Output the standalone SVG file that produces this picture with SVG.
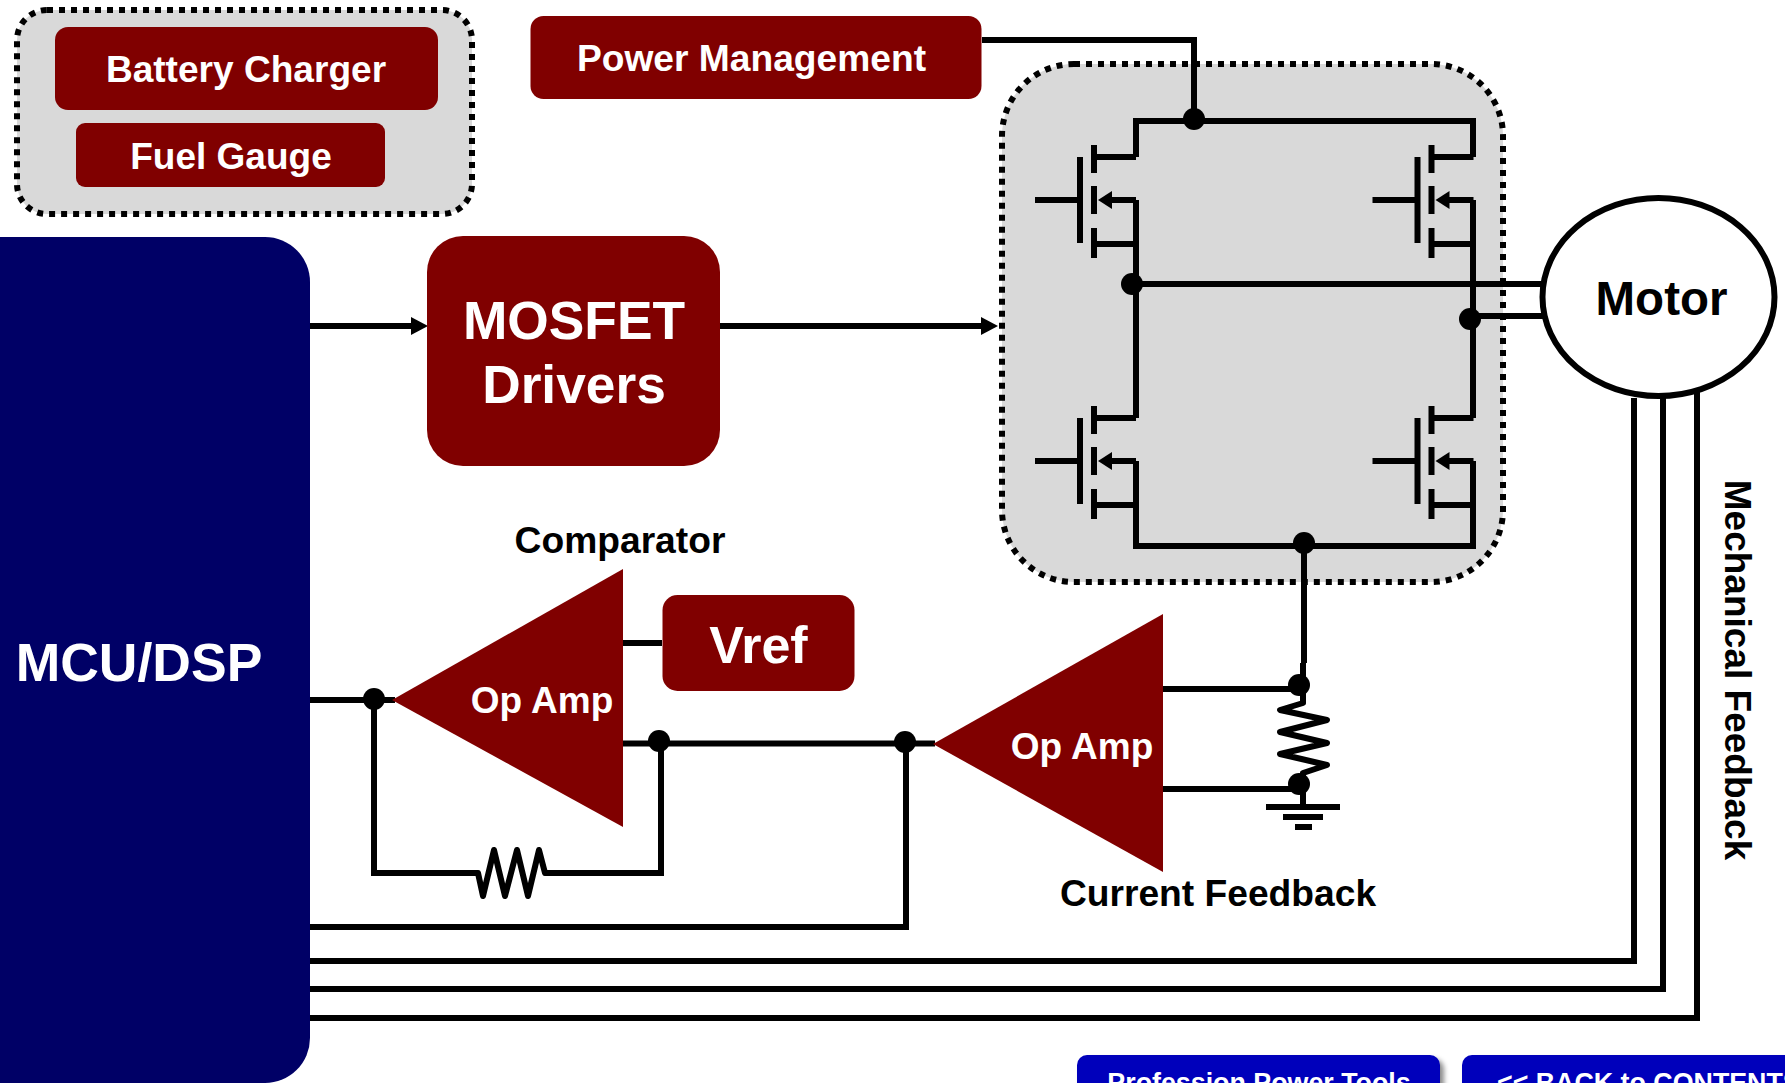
<svg xmlns="http://www.w3.org/2000/svg" width="1785" height="1083" viewBox="0 0 1785 1083">
<defs>
<style>
text{font-family:"Liberation Sans",Arial,sans-serif;font-weight:bold;text-anchor:middle}
.w{fill:#fff}.k{fill:#000}
.red{fill:#800000}
.grp{fill:#d9d9d9;stroke:#000;stroke-width:6;stroke-dasharray:6 6}
.l{fill:none;stroke:#000;stroke-width:6;stroke-linecap:butt;stroke-linejoin:miter}
.z{fill:none;stroke:#000;stroke-width:6;stroke-linejoin:round;stroke-linecap:round}
.btn{fill:#0000bb}
</style>
<marker id="arr" markerUnits="userSpaceOnUse" markerWidth="18" markerHeight="20" refX="17" refY="9" orient="auto"><path d="M0,0L17,9L0,18z" fill="#000"/></marker>
<filter id="sh" x="-5%" y="-10%" width="112%" height="130%"><feDropShadow dx="4" dy="4" stdDeviation="2.5" flood-color="#000" flood-opacity=".45"/></filter>
<g id="fet"><path class="l" d="M1035,200H1078M1080,157V243M1094,145V173M1094,186V214M1094,228V258M1094,157H1136M1105,200H1136M1094,244H1136"/><path d="M1098,200L1112,191V209z" fill="#000"/></g>
</defs>
<g id="battery-group"><rect class="grp" x="17" y="10" width="455" height="204" rx="30"/></g>
<g id="battery-charger"><rect class="red" x="55" y="27" width="383" height="83" rx="13"/><text class="w" x="246" y="82" font-size="37.1">Battery Charger</text></g>
<g id="fuel-gauge"><rect class="red" x="76" y="123" width="309" height="64" rx="9"/><text class="w" x="231" y="169" font-size="37">Fuel Gauge</text></g>
<g id="power-management"><rect class="red" x="530.5" y="16" width="451" height="83" rx="13"/><text class="w" x="751.5" y="71" font-size="37.2">Power Management</text></g>
<g id="bridge-group"><rect class="grp" x="1002" y="64" width="501" height="518" rx="72"/></g>
<g id="connectors">
<path class="l" d="M982,40H1194V120"/>
<path class="l" d="M1136,157V121H1473V157"/>
<path class="l" d="M1136,200V418M1473,200V418M1136,461V546H1473V461"/>
<path class="l" d="M1136,284H1545M1470,316H1545"/>
<path class="l" d="M1304,546V663"/>
<path class="l" d="M1303,663V703M1303,773V806"/>
<path class="l" d="M1163,689H1298M1163,789H1298"/>
<path class="z" d="M1303,703L1280,710L1327,720L1280,732L1327,743L1280,754L1327,765L1303,773"/>
<path class="l" d="M1266,807H1340M1283,817H1323M1295,827H1312"/>
<path class="l" d="M310,326H415"/><path d="M411,317L428,326L411,335z" fill="#000"/>
<path class="l" d="M720,326H985"/><path d="M981,317L998,326L981,335z" fill="#000"/>
<path class="l" d="M623,643H662"/>
<path class="l" d="M310,700H395"/>
<path class="l" d="M374,700V873H478M545,873H661V744"/>
<path class="z" d="M478,873L483,896L494,850L505,896L517,850L528,896L539,850L545,873"/>
<path class="l" d="M623,743.500H935"/>
<path class="l" d="M906,744V927H310"/>
<path class="l" d="M1634,398V961H310M1663,398V989H310M1697,392V1018H310"/>
</g>
<g id="mosfet-q1"><use href="#fet"/></g>
<g id="mosfet-q2"><use href="#fet" x="337.500"/></g>
<g id="mosfet-q3"><use href="#fet" y="261"/></g>
<g id="mosfet-q4"><use href="#fet" x="337.500" y="261"/></g>
<g id="junctions" fill="#000">
<circle cx="1194" cy="119" r="11"/><circle cx="1132" cy="284" r="11"/><circle cx="1470" cy="319" r="11"/><circle cx="1304" cy="543" r="11"/>
<circle cx="1299" cy="685" r="11"/><circle cx="1299" cy="784" r="11"/><circle cx="374" cy="699" r="11"/><circle cx="659" cy="741" r="11"/><circle cx="905" cy="742" r="11"/>
</g>
<g id="motor"><ellipse cx="1658.500" cy="297" rx="116" ry="99" fill="#fff" stroke="#000" stroke-width="6"/><text class="k" x="1661.500" y="315" font-size="47.500">Motor</text></g>
<g id="mcu-dsp"><rect x="-60" y="237" width="370" height="846" rx="45" fill="#000066"/><rect x="-60" y="1000" width="60" height="83" fill="#000066"/><text class="w" x="139" y="681" font-size="53.500">MCU/DSP</text></g>
<g id="mosfet-drivers"><rect class="red" x="427" y="236" width="293" height="230" rx="36"/><text class="w" x="574" y="339" font-size="53.300">MOSFET</text><text class="w" x="574" y="403" font-size="53.300">Drivers</text></g>
<g id="vref"><rect class="red" x="662.500" y="595" width="192" height="96" rx="15"/><text class="w" x="758.500" y="663" font-size="52">Vref</text></g>
<g id="comparator"><path class="red" d="M392,700L623,569V827z"/><text class="w" x="542" y="713" font-size="37">Op Amp</text><text class="k" x="620" y="553" font-size="37.200">Comparator</text></g>
<g id="current-feedback"><path class="red" d="M933,744L1163,614V872z"/><text class="w" x="1082" y="759" font-size="37">Op Amp</text><text class="k" x="1218" y="906" font-size="37.200">Current Feedback</text></g>
<g id="mechanical-feedback"><text class="k" transform="translate(1724.500,670) rotate(90)" font-size="37">Mechanical Feedback</text></g>
<g id="btn-tools"><rect class="btn" x="1077" y="1055" width="363" height="60" rx="10" filter="url(#sh)"/><text class="w" x="1259" y="1092" font-size="26.800">Profession Power Tools</text></g>
<g id="btn-back"><rect class="btn" x="1462" y="1055" width="363" height="60" rx="10" filter="url(#sh)"/><text class="w" x="1497" y="1092" font-size="26.800" style="text-anchor:start">&lt;&lt; BACK to CONTENTS</text></g>
</svg>
